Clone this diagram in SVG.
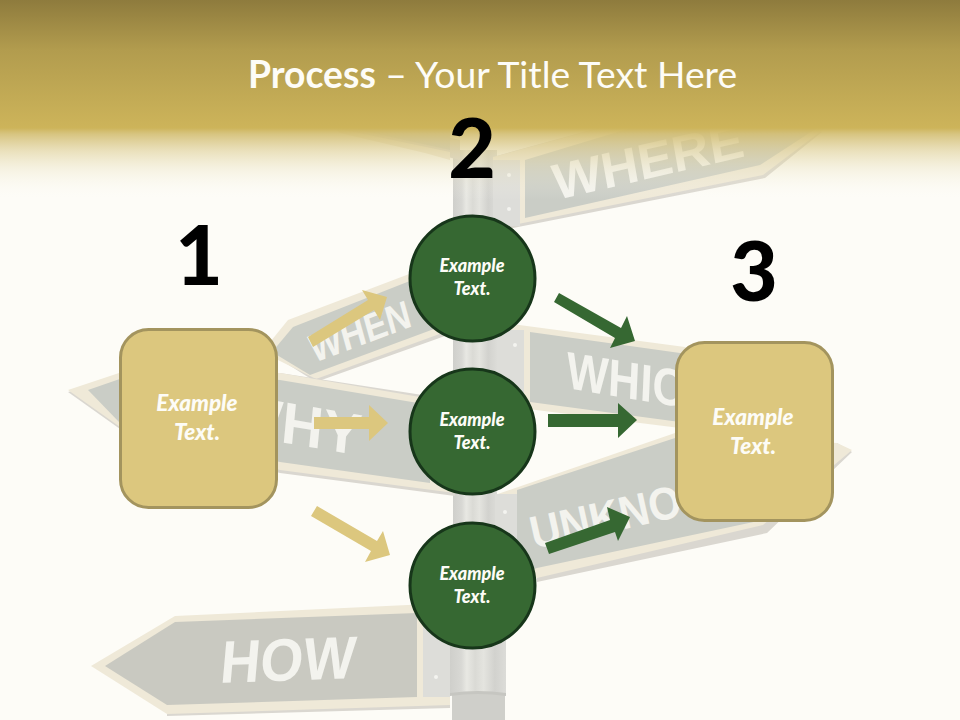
<svg xmlns="http://www.w3.org/2000/svg" width="960" height="720" viewBox="0 0 960 720">
<defs>
<linearGradient id="hdr" gradientUnits="userSpaceOnUse" x1="0" y1="0" x2="0" y2="200">
<stop offset="0" stop-color="#8E7B3D"/><stop offset="0.25" stop-color="#B29C4E"/><stop offset="0.64" stop-color="#CDB45A"/>
<stop offset="0.67" stop-color="#D3BE73" stop-opacity="0.9"/><stop offset="0.75" stop-color="#DCCC90" stop-opacity="0.6"/><stop offset="0.85" stop-color="#E8DFB8" stop-opacity="0.32"/><stop offset="1" stop-color="#FDFCF7" stop-opacity="0"/>
</linearGradient>
<linearGradient id="pole" x1="0" y1="0" x2="1" y2="0">
<stop offset="0" stop-color="#CFCFCB"/><stop offset="0.2" stop-color="#D8D8D4"/><stop offset="0.3" stop-color="#E8E8E3"/><stop offset="0.45" stop-color="#DADAD5"/><stop offset="0.6" stop-color="#E4E4DF"/><stop offset="0.8" stop-color="#D2D2CE"/><stop offset="1" stop-color="#DCDCD8"/>
</linearGradient>
<style>
.cr{fill:#EFE9D8}.sh{fill:#DAD7D0}.gr{fill:#CACDC6}.pl{fill:#DDDDD9}.rv{fill:#F4F4F0}
.sg{font-family:"Liberation Sans",Arial,sans-serif;font-weight:700;fill:#F3F3EE}
.box{fill:#DCC77E;stroke:#A3945E;stroke-width:3}
.cir{fill:#366832;stroke:#17361A;stroke-width:3}
.lb{font-family:Lato,sans-serif;font-weight:900;font-style:italic;fill:#FDFCF7;text-anchor:middle}
.num{font-family:Lato,sans-serif;font-weight:900;font-size:82px;fill:#000;text-anchor:middle}
.tan{fill:#DCC77E}.grn{fill:#366832}
</style>
</defs>
<rect width="960" height="720" fill="#FDFCF7"/>
<g id="backdrop">
<rect x="453" y="150" width="44" height="543" fill="url(#pole)"/>
<path class="sh" d="M340 112L460 140V160L340 131Z"/>
<path class="cr" d="M335 128L450 152V160L425 153L340 133Z"/>
<path class="gr" d="M350 100L450 120V150L350 128Z"/>
<g id="sign-where">
<path class="sh" d="M493 232L765 178L822 132L700 100L493 157Z"/>
<path class="cr" d="M493 157L710 98L825 128L763 175L493 229Z"/>
<rect class="pl" x="493" y="160" width="27" height="66"/>
<path class="gr" d="M525 160L710 104L817 128L760 165L525 218Z"/>
<circle class="rv" cx="509" cy="175" r="2"/><circle class="rv" cx="509" cy="209" r="2"/>
<text class="sg" font-size="50" transform="translate(556,200) rotate(-13) skewX(-3)" textLength="195" lengthAdjust="spacingAndGlyphs">WHERE</text>
</g>
<g id="sign-when">
<path class="sh" d="M268 352L290 324L440 270L445 336L316 382Z"/>
<path class="cr" d="M262 352L288 320L425 268L445 332L316 379Z"/>
<path class="gr" d="M272 352L293 327L425 275L434 329L310 375Z"/>
<text class="sg" font-size="39" transform="translate(314,363) rotate(-20.500) skewX(-5)" textLength="106" lengthAdjust="spacingAndGlyphs">WHEN</text>
</g>
<g id="sign-why">
<path class="sh" d="M68 392L120 429L280 473L455 496V400L280 373L140 372Z"/>
<path class="cr" d="M68 390L140 366L280 373L455 403V493L280 470L120 427Z"/>
<path class="gr" d="M88 390L140 372L280 380L430 405V483L280 462L120 423Z"/>
<text class="sg" font-size="58" transform="translate(226,433) rotate(9.500) skewX(4)">WHY</text>
</g>
<g id="sign-which">
<path class="cr" d="M497 322L685 347L800 420L680 428L497 405Z"/>
<rect class="pl" x="497" y="330" width="27" height="72"/>
<path class="gr" d="M530 332L680 353L790 420L680 422L530 402Z"/>
<circle class="rv" cx="515" cy="345" r="2"/>
<text class="sg" font-size="52" transform="translate(566,388) rotate(9.500) skewX(7) scale(.86,1)">WHICH</text>
</g>
<g id="sign-unknown">
<path class="sh" d="M495 498L837 443L852 452L767 533L537 582V575Z"/>
<path class="cr" d="M495 495L675 433L837 443L852 450L763 525L537 578L495 560Z"/>
<rect class="pl" x="495" y="494" width="22" height="70"/>
<path class="gr" d="M517 490L675 438L825 447L763 520L537 568L517 575Z"/>
<circle class="rv" cx="505" cy="512" r="2"/>
<text class="sg" font-size="46" transform="translate(534,549) rotate(-12.500) scale(.91,1)">UNKNOWN</text>
</g>
<g id="sign-how">
<path class="sh" d="M167 716L450 708V704L167 712Z"/>
<path class="cr" d="M91 666L175 616L450 603V705L167 714Z"/>
<rect class="pl" x="423" y="610" width="27" height="87"/>
<path class="gr" style="fill:#C9C9C1" d="M105 666L175 622L417 613V697L167 705Z"/>
<circle class="rv" cx="436" cy="677" r="2"/>
<text class="sg" font-size="60" transform="translate(219,683) rotate(-2) skewX(-7)" textLength="135" lengthAdjust="spacingAndGlyphs">HOW</text>
</g>
<rect x="450" y="590" width="56" height="103" fill="url(#pole)"/>
<rect x="452" y="693" width="53" height="27" fill="#CFCFCA"/>
<path d="M450 693Q478 689 506 693V696Q478 692 450 696Z" fill="#C6C6C1"/>
</g>
<rect id="header" width="960" height="200" fill="url(#hdr)"/>
<text id="title" x="492.500" y="88" font-family="Lato,sans-serif" font-size="37.300" fill="#FDFCF7" text-anchor="middle"><tspan font-weight="700">Process</tspan> – Your Title Text Here</text>
<g id="connectors">
<polygon class="tan" points="308,337 368,300 362,290 387,297 380,320 374,310 313,347"/>
<polygon class="tan" points="314,417 369,417 369,405 388,423 369,441 369,429 314,429"/>
<polygon class="tan" points="317,506 377,541 383,531 390,555 365,562 371,551 311,516"/>
<polygon class="grn" points="559,293 621,328 627,316 635,341 610,348 615,338 554,302"/>
<polygon class="grn" points="548,414 618,414 618,403 637,420 618,438 618,427 548,427"/>
<polygon class="grn" points="545,543 610,520 607,507 630,517 618,541 615,532 549,554"/>
</g>
<g id="num-1"><text class="num" x="199" y="285">1</text></g>
<g id="num-2"><text class="num" x="472" y="178">2</text></g>
<g id="num-3"><text class="num" x="754" y="301">3</text></g>
<g id="box-1"><rect class="box" x="120.500" y="329.500" width="156" height="178" rx="28"/>
<text class="lb" font-size="22.500" x="197" y="411">Example</text><text class="lb" font-size="22.500" x="197" y="440">Text.</text></g>
<g id="box-3"><rect class="box" x="676.500" y="342.500" width="156" height="178" rx="28"/>
<text class="lb" font-size="22.500" x="753" y="425">Example</text><text class="lb" font-size="22.500" x="753" y="454">Text.</text></g>
<g id="circle-1"><circle class="cir" cx="472.500" cy="278.500" r="62.500"/>
<text class="lb" font-size="18" x="472" y="272">Example</text><text class="lb" font-size="18" x="472" y="295">Text.</text></g>
<g id="circle-2"><circle class="cir" cx="472.500" cy="431.500" r="62.500"/>
<text class="lb" font-size="18" x="472" y="426">Example</text><text class="lb" font-size="18" x="472" y="449">Text.</text></g>
<g id="circle-3"><circle class="cir" cx="472.500" cy="585.500" r="62.500"/>
<text class="lb" font-size="18" x="472" y="580">Example</text><text class="lb" font-size="18" x="472" y="603">Text.</text></g>
</svg>
